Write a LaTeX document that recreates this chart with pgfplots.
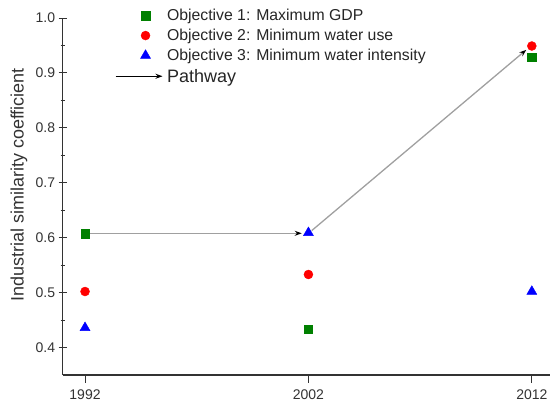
\documentclass[border=0pt]{standalone}
\usepackage{pgfplots}
\pgfplotsset{compat=1.18}
\usepackage{fontspec}
\setmainfont{Liberation Sans}
\usetikzlibrary{arrows.meta}
\definecolor{axgray}{HTML}{333333}
\definecolor{objgreen}{HTML}{008000}
\definecolor{pathgray}{HTML}{A0A0A0}
\begin{document}
\begin{tikzpicture}
\begin{axis}[
  scale only axis, width=487pt, height=357pt,
  xmin=1991, xmax=2012.8, ymin=0.35, ymax=1.0,
  axis lines=left,
  axis line style={-, line width=1.3pt, color=axgray},
  clip=false,
  xtick={1992,2002,2012},
  ytick={0.4,0.5,0.6,0.7,0.8,0.9,1.0},
  minor y tick num=1,
  xtick align=outside, ytick align=center,
  major tick length=8pt, minor tick length=4pt,
  tick style={color=axgray, line width=1pt},
  /pgf/number format/assume math mode=true,
  xticklabel style={/pgf/number format/1000 sep=, yshift=-3pt},
  yticklabel style={/pgf/number format/.cd, fixed, fixed zerofill, precision=1},
  ticklabel style={font=\fontsize{14}{16}\selectfont, color=axgray},
  ylabel={Industrial similarity coefficient},
  ylabel style={font=\fontsize{18}{20}\selectfont, color=axgray, at={(axis description cs:-0.0897,0.532)}, anchor=center},
  legend style={draw=none, fill=none, at={(axis description cs:0.107,1.031)}, anchor=north west,
    font=\fontsize{15.8}{17}\selectfont, text=black!85, row sep=3pt, inner sep=0pt,
    nodes={inner xsep=4pt}},
  legend cell align=left,
]
% pathway arrows
\addplot[forget plot, pathgray, line width=1.3pt, -{Stealth[color=black, length=7pt, width=5pt]}]
  coordinates {(1992,0.608) (2001.7,0.608)};
\addplot[forget plot, pathgray, line width=1.3pt, -{Stealth[color=black, length=7pt, width=5pt]}]
  coordinates {(2002.15,0.613) (2011.75,0.942)};
% objectives
\addplot[only marks, mark=square*, mark size=4.2pt, color=objgreen, mark options={fill=objgreen, draw=objgreen}]
  coordinates {(1992,0.607) (2002,0.433) (2012,0.929)};
\addlegendentry{Objective 1: Maximum GDP}
\addplot[only marks, mark=*, mark size=4.5pt, color=red, mark options={fill=red, draw=red}]
  coordinates {(1992,0.502) (2002,0.533) (2012,0.949)};
\addlegendentry{Objective 2: Minimum water use}
\addplot[only marks, mark=triangle*, mark size=5.8pt, color=blue, mark options={fill=blue, draw=blue}]
  coordinates {(1992,0.436) (2002,0.609) (2012,0.502)};
\addlegendentry{Objective 3: Minimum water intensity}
\addlegendimage{legend image code/.code={\draw[black, line width=1pt, -{Stealth[length=7pt, width=5pt]}] (-21.5pt,0pt) -- (25.5pt,0pt);}}
\addlegendentry{\fontsize{18}{20}\selectfont Pathway}
\end{axis}
\pgfresetboundingbox
\path[use as bounding box] ([shift={(-62.7pt,-35pt)}]current axis.south west) rectangle ([shift={(487.3pt,375pt)}]current axis.south west);
\end{tikzpicture}
\end{document}
